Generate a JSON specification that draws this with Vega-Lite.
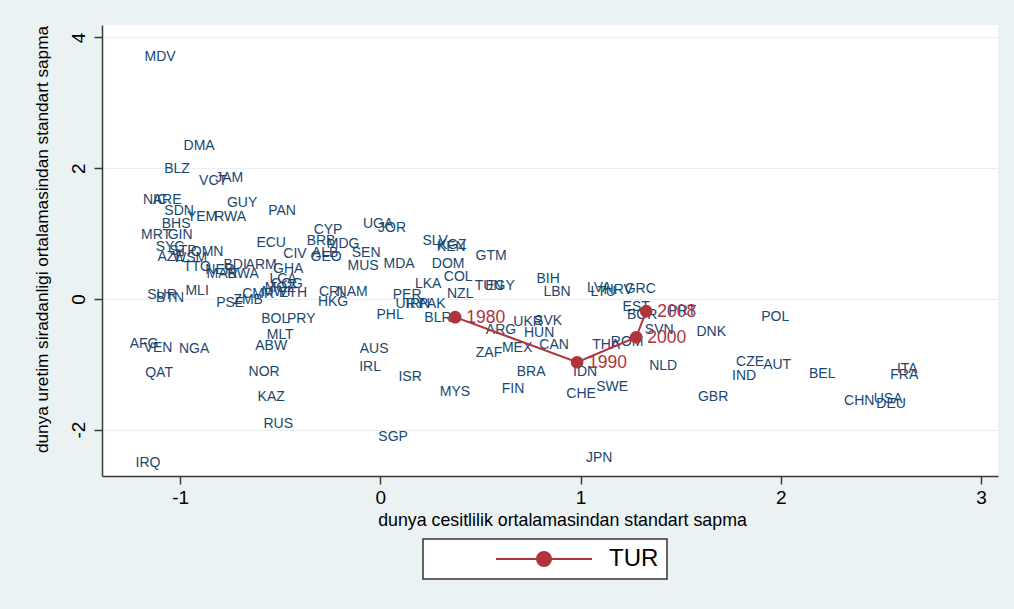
{
  "$schema": "https://vega.github.io/schema/vega-lite/v6.json",
  "width": 896,
  "height": 451,
  "autosize": {"type": "none"},
  "padding": {"left": 102, "top": 25, "right": 16, "bottom": 133},
  "background": "#eaf2f3",
  "config": {
    "view": {"fill": "white", "stroke": null},
    "font": "Liberation Sans",
    "legend": {"strokeWidth": 1.5}
  },
  "datasets": {
    "countries": [
      {"code": "MDV", "x": -1.100, "y": 3.701},
      {"code": "DMA", "x": -0.905, "y": 2.338},
      {"code": "BLZ", "x": -1.015, "y": 1.986},
      {"code": "VCT", "x": -0.835, "y": 1.802},
      {"code": "JAM", "x": -0.755, "y": 1.848},
      {"code": "NIC", "x": -1.125, "y": 1.511},
      {"code": "ARE", "x": -1.065, "y": 1.511},
      {"code": "SDN", "x": -1.005, "y": 1.343},
      {"code": "YEM", "x": -0.890, "y": 1.251},
      {"code": "RWA", "x": -0.750, "y": 1.251},
      {"code": "GUY", "x": -0.690, "y": 1.466},
      {"code": "PAN", "x": -0.491, "y": 1.343},
      {"code": "BHS", "x": -1.020, "y": 1.144},
      {"code": "MRT", "x": -1.120, "y": 0.975},
      {"code": "GIN", "x": -1.000, "y": 0.975},
      {"code": "SYC", "x": -1.050, "y": 0.792},
      {"code": "STP", "x": -0.985, "y": 0.730},
      {"code": "OMN", "x": -0.865, "y": 0.715},
      {"code": "AZE", "x": -1.045, "y": 0.639},
      {"code": "WSM", "x": -0.950, "y": 0.623},
      {"code": "TTO", "x": -0.915, "y": 0.485},
      {"code": "NER", "x": -0.800, "y": 0.440},
      {"code": "BDI", "x": -0.725, "y": 0.516},
      {"code": "MAR", "x": -0.790, "y": 0.378},
      {"code": "BWA", "x": -0.685, "y": 0.378},
      {"code": "ARM", "x": -0.595, "y": 0.516},
      {"code": "GHA", "x": -0.460, "y": 0.455},
      {"code": "LCA", "x": -0.486, "y": 0.302},
      {"code": "COG", "x": -0.466, "y": 0.225},
      {"code": "MOZ", "x": -0.500, "y": 0.164},
      {"code": "MWI", "x": -0.520, "y": 0.103},
      {"code": "CMR", "x": -0.610, "y": 0.072},
      {"code": "ETH", "x": -0.436, "y": 0.087},
      {"code": "MLI", "x": -0.915, "y": 0.118},
      {"code": "SUR", "x": -1.090, "y": 0.057},
      {"code": "BTN", "x": -1.050, "y": 0.011},
      {"code": "PSE", "x": -0.750, "y": -0.066},
      {"code": "ZMB", "x": -0.660, "y": -0.020},
      {"code": "ECU", "x": -0.545, "y": 0.853},
      {"code": "CYP", "x": -0.261, "y": 1.052},
      {"code": "BRB", "x": -0.296, "y": 0.884},
      {"code": "MDG", "x": -0.186, "y": 0.838},
      {"code": "CIV", "x": -0.426, "y": 0.684},
      {"code": "ALB", "x": -0.276, "y": 0.700},
      {"code": "GEO", "x": -0.271, "y": 0.639},
      {"code": "SEN", "x": -0.071, "y": 0.700},
      {"code": "MUS", "x": -0.086, "y": 0.501},
      {"code": "CRI", "x": -0.246, "y": 0.103},
      {"code": "NAM", "x": -0.141, "y": 0.103},
      {"code": "HKG", "x": -0.236, "y": -0.050},
      {"code": "BOL", "x": -0.525, "y": -0.310},
      {"code": "PRY", "x": -0.395, "y": -0.310},
      {"code": "MLT", "x": -0.500, "y": -0.555},
      {"code": "AFG", "x": -1.180, "y": -0.693},
      {"code": "VEN", "x": -1.110, "y": -0.755},
      {"code": "NGA", "x": -0.930, "y": -0.770},
      {"code": "ABW", "x": -0.545, "y": -0.724},
      {"code": "AUS", "x": -0.031, "y": -0.770},
      {"code": "QAT", "x": -1.105, "y": -1.138},
      {"code": "NOR", "x": -0.580, "y": -1.123},
      {"code": "IRL", "x": -0.051, "y": -1.046},
      {"code": "KAZ", "x": -0.545, "y": -1.505},
      {"code": "RUS", "x": -0.510, "y": -1.919},
      {"code": "SGP", "x": 0.064, "y": -2.118},
      {"code": "IRQ", "x": -1.160, "y": -2.516},
      {"code": "JPN", "x": 1.093, "y": -2.439},
      {"code": "UGA", "x": -0.011, "y": 1.144},
      {"code": "JOR", "x": 0.059, "y": 1.083},
      {"code": "MDA", "x": 0.094, "y": 0.531},
      {"code": "LKA", "x": 0.239, "y": 0.225},
      {"code": "PER", "x": 0.134, "y": 0.057},
      {"code": "URY", "x": 0.149, "y": -0.080},
      {"code": "IRN", "x": 0.189, "y": -0.080},
      {"code": "PAK", "x": 0.259, "y": -0.080},
      {"code": "PHL", "x": 0.049, "y": -0.248},
      {"code": "BLR", "x": 0.288, "y": -0.295},
      {"code": "SLV", "x": 0.274, "y": 0.884},
      {"code": "KEN", "x": 0.354, "y": 0.792},
      {"code": "KGZ", "x": 0.359, "y": 0.822},
      {"code": "GTM", "x": 0.553, "y": 0.654},
      {"code": "DOM", "x": 0.339, "y": 0.531},
      {"code": "COL", "x": 0.389, "y": 0.332},
      {"code": "TUN", "x": 0.543, "y": 0.195},
      {"code": "EGY", "x": 0.598, "y": 0.195},
      {"code": "NZL", "x": 0.399, "y": 0.072},
      {"code": "BIH", "x": 0.838, "y": 0.302},
      {"code": "LBN", "x": 0.883, "y": 0.103},
      {"code": "LVA", "x": 1.093, "y": 0.164},
      {"code": "LTU", "x": 1.113, "y": 0.103},
      {"code": "HRV", "x": 1.188, "y": 0.133},
      {"code": "GRC", "x": 1.298, "y": 0.149},
      {"code": "ARG", "x": 0.603, "y": -0.479},
      {"code": "UKR", "x": 0.738, "y": -0.356},
      {"code": "SVK", "x": 0.838, "y": -0.341},
      {"code": "HUN", "x": 0.793, "y": -0.524},
      {"code": "MEX", "x": 0.683, "y": -0.755},
      {"code": "ZAF", "x": 0.543, "y": -0.831},
      {"code": "CAN", "x": 0.868, "y": -0.709},
      {"code": "THA", "x": 1.128, "y": -0.709},
      {"code": "ROM", "x": 1.233, "y": -0.663},
      {"code": "EST", "x": 1.278, "y": -0.127},
      {"code": "BGR", "x": 1.308, "y": -0.249},
      {"code": "SVN", "x": 1.393, "y": -0.479},
      {"code": "PRT", "x": 1.508, "y": -0.188},
      {"code": "DNK", "x": 1.653, "y": -0.509},
      {"code": "IDN", "x": 1.023, "y": -1.122},
      {"code": "BRA", "x": 0.753, "y": -1.122},
      {"code": "NLD", "x": 1.413, "y": -1.031},
      {"code": "SWE", "x": 1.158, "y": -1.353},
      {"code": "CHE", "x": 1.003, "y": -1.460},
      {"code": "FIN", "x": 0.663, "y": -1.383},
      {"code": "MYS", "x": 0.373, "y": -1.429},
      {"code": "ISR", "x": 0.149, "y": -1.199},
      {"code": "POL", "x": 1.972, "y": -0.280},
      {"code": "CZE", "x": 1.847, "y": -0.969},
      {"code": "AUT", "x": 1.982, "y": -1.015},
      {"code": "IND", "x": 1.817, "y": -1.184},
      {"code": "BEL", "x": 2.207, "y": -1.153},
      {"code": "ITA", "x": 2.632, "y": -1.077},
      {"code": "FRA", "x": 2.617, "y": -1.169},
      {"code": "GBR", "x": 1.662, "y": -1.505},
      {"code": "CHN", "x": 2.392, "y": -1.567},
      {"code": "USA", "x": 2.536, "y": -1.536},
      {"code": "DEU", "x": 2.551, "y": -1.613}
    ],
    "tur": [
      {"series": "TUR", "year": "1980", "x": 0.374, "y": -0.280},
      {"series": "TUR", "year": "1990", "x": 0.983, "y": -0.969},
      {"series": "TUR", "year": "2000", "x": 1.278, "y": -0.587},
      {"series": "TUR", "year": "2008", "x": 1.328, "y": -0.188}
    ]
  },
  "encoding": {
    "x": {
      "field": "x",
      "type": "quantitative",
      "scale": {"domain": [-1.39, 3.085], "nice": false, "zero": false},
      "axis": {
        "values": [-1, 0, 1, 2, 3],
        "labelExpr": "replace(datum.label, '\u2212', '-')",
        "grid": false,
        "tickSize": 8,
        "tickWidth": 1.5,
        "tickColor": "#3a3a3a",
        "domainColor": "#3a3a3a",
        "domainWidth": 1.5,
        "labelFontSize": 19,
        "labelColor": "#000000",
        "labelPadding": 4,
        "title": "dunya cesitlilik ortalamasindan standart sapma",
        "titleFontSize": 17.8,
        "titleFontWeight": "normal",
        "titleColor": "#000000",
        "titleX": 460,
        "titleY": 35,
        "titleAlign": "center",
        "titleBaseline": "top"
      }
    },
    "y": {
      "field": "y",
      "type": "quantitative",
      "scale": {"domain": [-2.71, 4.19], "nice": false, "zero": false},
      "axis": {
        "values": [-2, 0, 2, 4],
        "labelExpr": "replace(datum.label, '\u2212', '-')",
        "grid": true,
        "gridColor": "#e6eef0",
        "gridWidth": 1.2,
        "tickSize": 8,
        "tickWidth": 1.5,
        "tickColor": "#3a3a3a",
        "domainColor": "#3a3a3a",
        "domainWidth": 1.5,
        "labelFontSize": 19,
        "labelColor": "#000000",
        "labelAngle": 270,
        "labelAlign": "center",
        "labelBaseline": "alphabetic",
        "labelPadding": 10,
        "title": "dunya uretim siradanligi ortalamasindan standart sapma",
        "titleFontSize": 17.2,
        "titleFontWeight": "normal",
        "titleColor": "#000000",
        "titleAngle": 270,
        "titleX": -51,
        "titleY": 214,
        "titleAlign": "center",
        "titleBaseline": "bottom"
      }
    }
  },
  "layer": [
    {
      "data": {"name": "countries"},
      "mark": {"type": "text", "fontSize": 14, "color": "#1a476f", "align": "center", "baseline": "middle"},
      "encoding": {"text": {"field": "code", "type": "nominal"}}
    },
    {
      "data": {"name": "tur"},
      "mark": {"type": "line", "strokeWidth": 2, "color": "#b0343a"},
      "encoding": {"order": {"field": "year", "type": "ordinal"}}
    },
    {
      "data": {"name": "tur"},
      "mark": {"type": "circle", "size": 160, "opacity": 1},
      "encoding": {
        "color": {
          "field": "series",
          "type": "nominal",
          "scale": {"domain": ["TUR"], "range": ["#b0343a"]},
          "legend": {
            "orient": "none",
            "legendX": 321,
            "legendY": 514,
            "title": null,
            "fillColor": "white",
            "strokeColor": "#333333",
            "padding": 8,
            "symbolType": "M-4.8,0L4.8,0M0.7,0C0.7,0.3866 0.3866,0.7 0,0.7C-0.3866,0.7 -0.7,0.3866 -0.7,0C-0.7,-0.3866 -0.3866,-0.7 0,-0.7C0.3866,-0.7 0.7,-0.3866 0.7,0Z",
            "symbolSize": 400,
            "symbolStrokeWidth": 2,
            "symbolStrokeColor": "#b0343a",
            "symbolFillColor": "#b0343a",
            "symbolOffset": 101,
            "labelOffset": 53,
            "labelFontSize": 24,
            "labelColor": "#000000",
            "labelExpr": "datum.label + '\u00a0\u2009'"
          }
        }
      }
    },
    {
      "data": {"name": "tur"},
      "mark": {"type": "text", "align": "left", "baseline": "middle", "dx": 11, "dy": 1, "fontSize": 17.5, "color": "#b0343a"},
      "encoding": {"text": {"field": "year", "type": "nominal"}}
    }
  ]
}
